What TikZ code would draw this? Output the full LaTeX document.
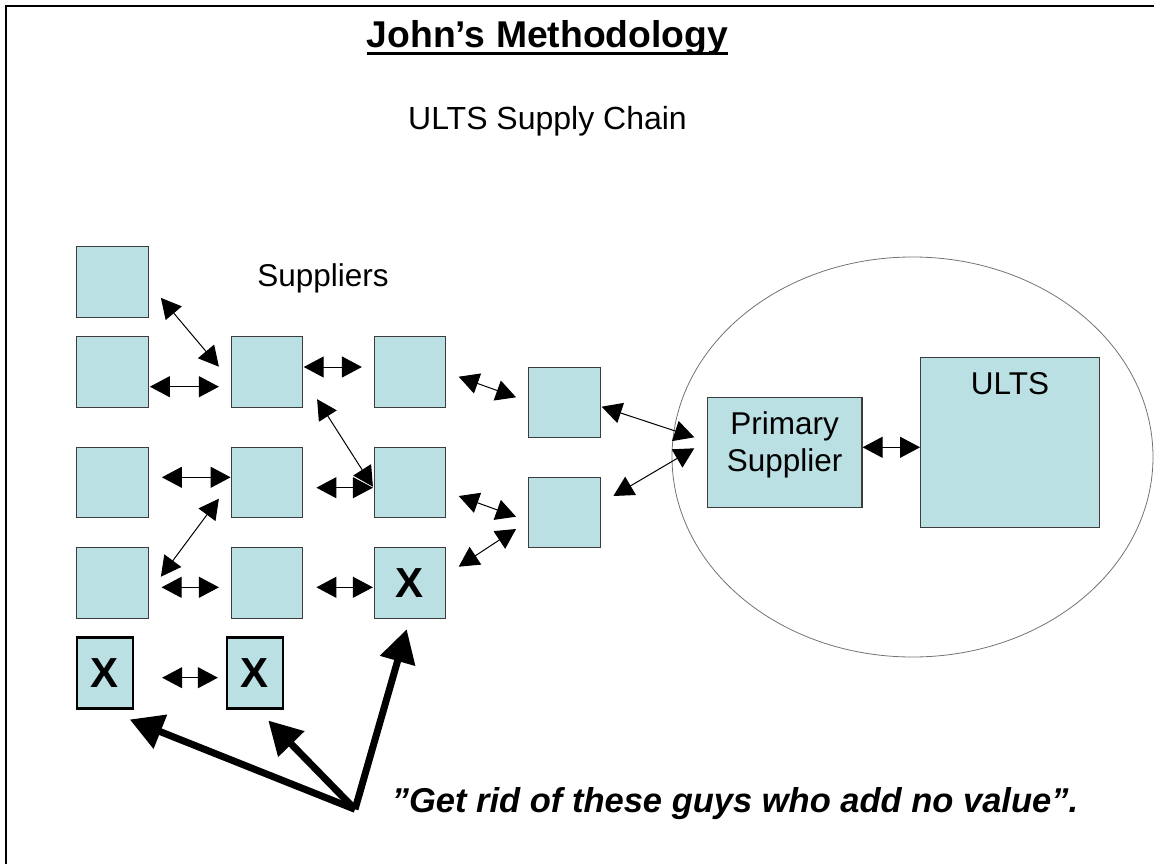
\documentclass[tikz,border=0pt]{standalone}
\usepackage{fontspec}
\setmainfont{Liberation Sans}
\usetikzlibrary{arrows.meta,calc,shapes.geometric}
\definecolor{boxfill}{RGB}{186,224,227}
\definecolor{boxline}{RGB}{60,60,60}
\begin{document}
\begin{tikzpicture}[x=1pt,y=-1pt,
  sbox/.style={draw=boxline, line width=1.3pt, fill=boxfill, inner sep=0pt,
               minimum width=71.5pt, minimum height=70.5pt},
  xbox/.style={draw=black, line width=2.4pt, fill=boxfill, inner sep=0pt,
               minimum width=56.5pt, minimum height=71pt,
               font=\fontsize{42}{46}\selectfont\bfseries},
  xmark/.style={font=\fontsize{42}{46}\selectfont\bfseries},
  body/.style={font=\fontsize{31.5}{37.4}\selectfont, inner sep=0pt},
  dbl/.style={line width=1pt,
      arrows={Triangle[length=20pt,width=21pt]-Triangle[length=20pt,width=21pt]}},
  thick arrow/.style={line width=7pt, arrows={-Triangle[length=33pt,width=35pt]}}
]
\useasboundingbox (0,0) rectangle (1154,864);
% frame
\draw[line width=2pt] (5.7,880) -- (5.7,5.7) -- (1170,5.7);

% titles
\node[font=\fontsize{37.3}{40}\selectfont\bfseries, anchor=base, inner sep=0pt]
  (title) at (547.5,47.3) {John’s Methodology};
\draw[line width=3pt] ($(title.base west)+(0,5.8)$) -- ($(title.base east)+(0,5.8)$);
\node[body, font=\fontsize{32}{37.4}\selectfont, anchor=base] (sub) at (547.5,129.3) {ULTS Supply Chain};
\node[body, anchor=base] (supl) at (323,286.7) {Suppliers};

% ellipse
\node[ellipse, draw=black!55, line width=0.8pt, minimum width=481pt, minimum height=400pt,
      inner sep=0pt] (ring) at (912.5,457) {};

% supplier boxes
\node[sbox] (a)   at (112.5,282) {};
\node[sbox] (b21) at (112.5,372) {};
\node[sbox] (b22) at (267,372) {};
\node[sbox] (b23) at (410,372) {};
\node[sbox] (b31) at (112.5,482.5) {};
\node[sbox] (b32) at (267,482.5) {};
\node[sbox] (b33) at (410,482.5) {};
\node[sbox] (b41) at (112.5,583) {};
\node[sbox] (b42) at (267,583) {};
\node[sbox, xmark] (b43) at (410,583) {X};
\node[xbox] (x1) at (105,672.8) {X};
\node[xbox] (x2) at (255,672.8) {X};
\node[sbox, minimum width=72pt] (e) at (564.3,402.5) {};
\node[sbox, minimum width=72pt] (f) at (564.3,512.5) {};

% primary supplier and ULTS
\node[sbox, minimum width=154.7pt, minimum height=110pt] (prim) at (784.6,452.3) {};
\node[body, align=center] (primT) at (784.6,444.6) {Primary\\Supplier};
\node[sbox, minimum width=178.6pt, minimum height=170pt] (ults) at (1010,442.3) {};
\node[body, anchor=base] (ultsT) at (1010,394) {ULTS};

% thin double arrows
\draw[dbl] ($(a.south east)+(12,-20)$) -- ($(b22.west)+(-11.7,-5.3)$);
\draw[dbl] ($(b21.east)+(1,14.7)$) -- ($(b22.west)+(-11.7,14.7)$);
\draw[dbl] ($(b22.east)+(0.3,-5)$) -- ($(b23.west)+(-11.7,-5)$);
\draw[dbl] ($(b22.south east)+(13.7,-8.7)$) -- ($(b33.west)+(-0.7,4.2)$);
\draw[dbl] ($(b31.east)+(13,-5.2)$) -- ($(b32.west)+(0,-5.2)$);
\draw[dbl] ($(b32.east)+(13,5.2)$) -- ($(b33.west)+(-0.7,5.2)$);
\draw[dbl] ($(b32.south west)+(-11.7,-19.7)$) -- ($(b41.east)+(12,-6.3)$);
\draw[dbl] ($(b41.east)+(12.7,4.3)$) -- ($(b42.west)+(-11.7,4.3)$);
\draw[dbl] ($(b42.east)+(13,4.3)$) -- ($(b43.west)+(-0.7,4.3)$);
\draw[dbl] ($(x1.east)+(27.7,4.9)$) -- ($(x2.west)+(-7.7,4.9)$);
\draw[dbl] ($(b23.east)+(12.3,4.7)$) -- ($(e.west)+(-11.6,-5.2)$);
\draw[dbl] ($(b33.east)+(12.3,13.5)$) -- ($(f.west)+(-11.6,4.2)$);
\draw[dbl] ($(b43.east)+(12.3,-16.3)$) -- ($(f.west)+(-11.6,16.5)$);
\draw[dbl] ($(e.east)+(0.7,4.2)$) -- ($(prim.west)+(-12.3,-15)$);
\draw[dbl] ($(f.north east)+(12.4,19.4)$) -- ($(prim.west)+(-12.3,-4)$);
\draw[dbl] ($(prim.east)+(0,-5)$) -- ($(ults.west)+(0,5)$);

% bottom remark and thick arrows
\coordinate (hub) at (355,809.3);
\draw[thick arrow] (hub) -- ($(x1.south east)+(-4.7,10)$);
\draw[thick arrow] (hub) -- ($(x2.south)+(13.3,11)$);
\draw[thick arrow] (hub) -- ($(b43.south)+(-3.3,10.3)$);
\node[font=\fontsize{34.5}{40}\selectfont\bfseries\itshape, anchor=base west, inner sep=0pt]
  (remark) at (391.7,812.7) {”Get rid of these guys who add no value”.};
\end{tikzpicture}
\end{document}
